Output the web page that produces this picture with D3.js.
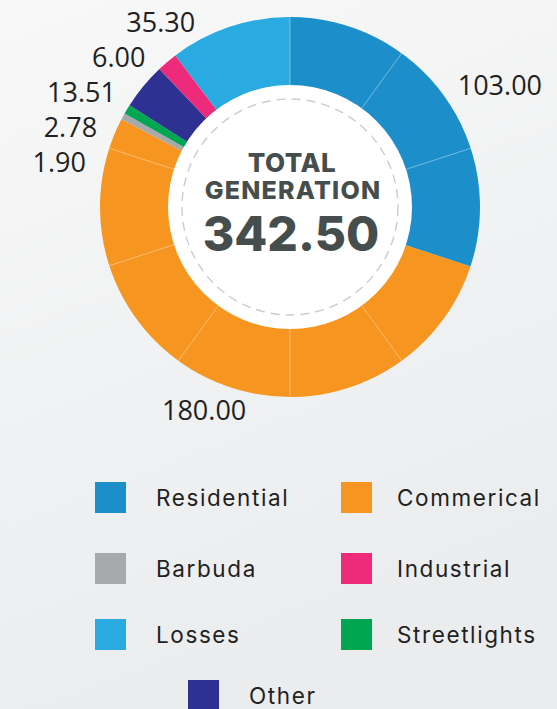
<!DOCTYPE html>
<html>
<head>
<meta charset="utf-8">
<script src="https://cdn.jsdelivr.net/npm/d3@7"></script>
<style>
  html, body { margin: 0; padding: 0; }
  body { width: 557px; height: 709px; overflow: hidden; }
</style>
</head>
<body>
<div id="chart"></div>
<script>
// data, clockwise from the top
var categories = ['Residential', 'Commerical', 'Barbuda', 'Streetlights', 'Other', 'Industrial', 'Losses'];
var values = [103.00, 180.00, 1.90, 2.78, 13.51, 6.00, 35.30];
var colors = ['#1c8fcb', '#f6951f', '#a7a9ac', '#00a651', '#2e3192', '#ee2a7b', '#29aae1'];
var legendOrder = ['Residential', 'Commerical', 'Barbuda', 'Industrial', 'Losses', 'Streetlights', 'Other'];
var totalLabel = ['TOTAL', 'GENERATION'];
var totalValue = 342.50; // as printed in the centre

var width = 557, height = 709;
var cx = 290, cy = 207;
var outerR = 190, innerR = 122;

var data = categories.map(function(c, i) { return { name: c, value: values[i] }; });

var color = d3.scaleOrdinal().domain(categories).range(colors);

var svg = d3.select('#chart')
    .append('svg')
    .attr('width', width)
    .attr('height', height);

// background
var defs = svg.append('defs');
var grad = defs.append('linearGradient')
    .attr('id', 'bg')
    .attr('x1', 0).attr('y1', 0).attr('x2', 0.3).attr('y2', 1);
grad.append('stop').attr('offset', '0%').attr('stop-color', '#f8f8f8');
grad.append('stop').attr('offset', '100%').attr('stop-color', '#eaecee');
svg.append('rect').attr('width', width).attr('height', height).attr('fill', 'url(#bg)');

var g = svg.append('g').attr('transform', 'translate(' + cx + ',' + cy + ')');

var pie = d3.pie().sort(null).value(function(d) { return d.value; });
var arcs = pie(data);

var arc = d3.arc().innerRadius(innerR - 1).outerRadius(outerR);

g.selectAll('path.slice')
    .data(arcs)
    .enter()
    .append('path')
    .attr('class', 'slice')
    .attr('d', arc)
    .attr('fill', function(d) { return color(d.data.name); });

// thin divider lines every 36 degrees inside slices
var ticks = d3.range(0, 360, 36).map(function(a) { return a * Math.PI / 180; })
    .filter(function(a) {
        return !arcs.some(function(d) { return Math.abs(d.startAngle - a) < 0.05 && a > 0; });
    });
g.selectAll('line.div')
    .data(ticks)
    .enter()
    .append('line')
    .attr('x1', function(a) { return innerR * Math.sin(a); })
    .attr('y1', function(a) { return -innerR * Math.cos(a); })
    .attr('x2', function(a) { return outerR * Math.sin(a); })
    .attr('y2', function(a) { return -outerR * Math.cos(a); })
    .attr('stroke', '#ffffff')
    .attr('stroke-opacity', 0.55)
    .attr('stroke-width', 0.7);

// centre disk
g.append('circle').attr('r', innerR).attr('fill', '#ffffff');
g.append('circle')
    .attr('r', 108)
    .attr('fill', 'none')
    .attr('stroke', '#c9ccd3')
    .attr('stroke-width', 1.4)
    .attr('stroke-dasharray', '9 6');

var centerFont = 'Inter, "Open Sans", sans-serif';
g.append('text')
    .attr('x', 2).attr('y', -35)
    .attr('text-anchor', 'middle')
    .attr('font-family', centerFont)
    .attr('font-weight', 800)
    .attr('font-size', 26)
    .attr('letter-spacing', 0.5)
    .attr('fill', '#454d4d')
    .text(totalLabel[0]);
g.append('text')
    .attr('x', 3).attr('y', -8)
    .attr('text-anchor', 'middle')
    .attr('font-family', centerFont)
    .attr('font-weight', 800)
    .attr('font-size', 25)
    .attr('letter-spacing', 1.2)
    .attr('fill', '#454d4d')
    .text(totalLabel[1]);
g.append('text')
    .attr('x', 1).attr('y', 44)
    .attr('text-anchor', 'middle')
    .attr('font-family', centerFont)
    .attr('font-weight', 800)
    .attr('font-size', 48)
    .attr('fill', '#454d4d')
    .text(d3.format('.2f')(totalValue));

// value labels
var labelR = 207;
var labels = arcs.map(function(d) {
    var a = (d.startAngle + d.endAngle) / 2;
    var s = Math.sin(a), c = Math.cos(a);
    var side = Math.abs(s) < 0.45 && c < 0 ? 'bottom' : (s >= 0 ? 'right' : 'left');
    var r = side === 'bottom' ? labelR + 14 : labelR;
    return { d: d, a: a, side: side, x: r * s, y: -r * c };
});

// spread the crowded left-hand labels downwards, following the ring
var left = labels.filter(function(l) { return l.side === 'left'; })
    .sort(function(a, b) { return a.y - b.y; });
left[0].y = Math.max(left[0].y, -cy + 22);
for (var i = 1; i < left.length; i++) {
    if (left[i].y < left[i - 1].y + 35) left[i].y = left[i - 1].y + 35;
}
left.forEach(function(l) {
    var dy = Math.max(-labelR, Math.min(labelR, l.y));
    l.x = -Math.sqrt(labelR * labelR - dy * dy) - 2;
});

g.selectAll('text.val')
    .data(labels)
    .enter()
    .append('text')
    .attr('class', 'val')
    .attr('x', function(l) { return l.x; })
    .attr('y', function(l) { return l.y; })
    .attr('dy', '0.36em')
    .attr('text-anchor', function(l) {
        return l.side === 'bottom' ? 'middle' : (l.side === 'right' ? 'start' : 'end');
    })
    .attr('font-family', '"Open Sans", sans-serif')
    .attr('font-size', 27)
    .attr('fill', '#231f20')
    .text(function(l) { return d3.format('.2f')(l.d.data.value); });

// legend
var colX = [95, 341], rowY = [482, 553, 619, 680], sw = 31;
var leg = svg.append('g');
var items = leg.selectAll('g')
    .data(legendOrder)
    .enter()
    .append('g')
    .attr('transform', function(d, i) {
        var row = Math.floor(i / 2);
        var x = i === legendOrder.length - 1 && legendOrder.length % 2 ? (colX[0] + colX[1]) / 2 - 30 : colX[i % 2];
        return 'translate(' + x + ',' + rowY[row] + ')';
    });
items.append('rect')
    .attr('width', sw).attr('height', sw)
    .attr('fill', function(d) { return color(d); });
items.append('text')
    .attr('x', function(d, i) { return i % 2 ? 56 : 61; })
    .attr('y', sw / 2)
    .attr('dy', '0.36em')
    .attr('font-family', 'Inter, "Open Sans", sans-serif')
    .attr('font-size', 22.5)
    .attr('letter-spacing', 1.6)
    .attr('fill', '#231f20')
    .text(function(d) { return d; });
</script>
</body>
</html>
